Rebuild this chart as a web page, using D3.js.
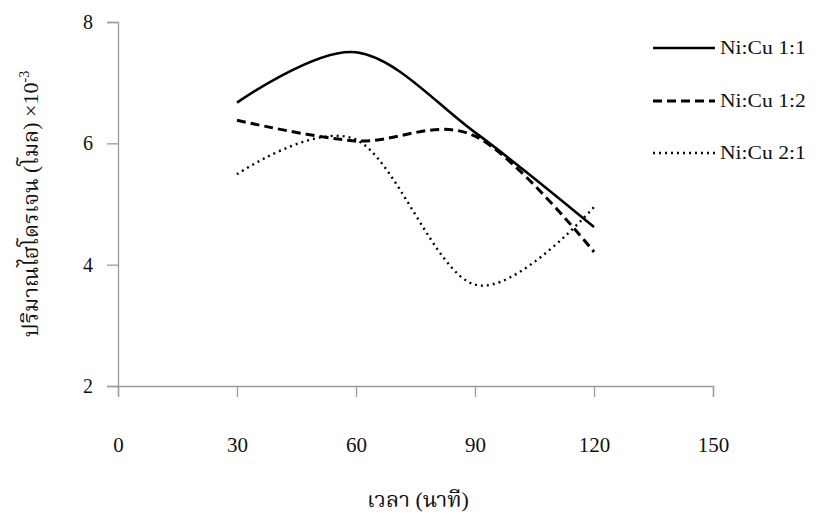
<!DOCTYPE html>
<html>
<head>
<meta charset="utf-8">
<script src="https://cdn.jsdelivr.net/npm/d3@7"></script>
<style>
  body { margin: 0; background: #fff; }
</style>
</head>
<body>
<div id="chart"></div>
<script>
const times = [30, 60, 90, 120];
const ratio11 = [6.67, 7.5, 6.18, 4.62];
const ratio12 = [6.38, 6.04, 6.12, 4.21];
const ratio21 = [5.49, 6.06, 3.67, 4.95];
const seriesNames = ['Ni:Cu 1:1', 'Ni:Cu 1:2', 'Ni:Cu 2:1'];
const xTicks = [0, 30, 60, 90, 120, 150];
const yTicks = [2, 4, 6, 8];

function createLineChart(element) {
  const width = 818;
  const height = 515;
  const serif = "'Liberation Serif', 'Noto Serif Thai', 'Noto Sans Thai', serif";
  const svg = d3.select(element).append('svg')
    .attr('width', width)
    .attr('height', height);

  const x = d3.scaleLinear().domain([0, 150]).range([118, 713]);
  const y = d3.scaleLinear().domain([2, 8]).range([386, 22]);

  const axisColor = '#9a9a9a';

  // x axis
  const xAxis = svg.append('g')
    .attr('transform', `translate(0,${y(2)})`)
    .call(d3.axisBottom(x).tickValues(xTicks).tickFormat(d3.format('d'))
      .tickSize(11).tickPadding(40));
  xAxis.select('.domain').attr('stroke', axisColor).attr('stroke-width', 1.3);
  xAxis.selectAll('.tick line').attr('stroke', axisColor).attr('stroke-width', 1.3);
  xAxis.selectAll('.tick text')
    .style('font-family', serif)
    .style('font-size', '21px')
    .attr('fill', '#111');

  // y axis
  const yAxis = svg.append('g')
    .attr('transform', `translate(${x(0)},0)`)
    .call(d3.axisLeft(y).tickValues(yTicks).tickFormat(d3.format('d'))
      .tickSize(11).tickPadding(14));
  yAxis.select('.domain').attr('stroke', axisColor).attr('stroke-width', 1.3);
  yAxis.selectAll('.tick line').attr('stroke', axisColor).attr('stroke-width', 1.3);
  yAxis.selectAll('.tick text')
    .style('font-family', serif)
    .style('font-size', '20px')
    .attr('fill', '#111');

  // titles
  svg.append('text')
    .attr('x', 418)
    .attr('y', 507)
    .attr('text-anchor', 'middle')
    .style('font-family', serif)
    .style('font-size', '22px')
    .attr('fill', '#111')
    .text('เวลา (นาที)');

  const yTitle = svg.append('text')
    .attr('transform', 'translate(38,204) rotate(-90)')
    .attr('text-anchor', 'middle')
    .style('font-family', serif)
    .style('font-size', '22px')
    .attr('fill', '#111');
  yTitle.append('tspan').text('ปริมาณไฮโดรเจน (โมล) ×10');
  yTitle.append('tspan').attr('dy', -9).style('font-size', '14px').text('-3');

  const styles = [
    { dash: null, width: 2.6 },
    { dash: '9,5', width: 3 },
    { dash: '2,4', width: 2.4 }
  ];
  const allValues = [ratio11, ratio12, ratio21];

  const line = d3.line()
    .x(d => x(d[0]))
    .y(d => y(d[1]))
    .curve(d3.curveCatmullRom.alpha(0));

  allValues.forEach((vals, i) => {
    svg.append('path')
      .datum(times.map((t, j) => [t, vals[j]]))
      .attr('fill', 'none')
      .attr('stroke', '#000')
      .attr('stroke-width', styles[i].width)
      .attr('stroke-dasharray', styles[i].dash)
      .attr('d', line);
  });

  // legend
  const legend = svg.append('g');
  const legendY = [48, 101, 153];
  seriesNames.forEach((name, i) => {
    legend.append('line')
      .attr('x1', 653).attr('x2', 715)
      .attr('y1', legendY[i]).attr('y2', legendY[i])
      .attr('stroke', '#000')
      .attr('stroke-width', styles[i].width)
      .attr('stroke-dasharray', styles[i].dash);
    // the original legend text is a bit stretched sideways
    legend.append('text')
      .attr('transform', `translate(720,${legendY[i]}) scale(1.2,1)`)
      .attr('dy', '0.35em')
      .style('font-family', serif)
      .style('font-size', '18px')
      .attr('fill', '#111')
      .text(name);
  });
}

createLineChart(document.getElementById('chart'));
</script>
</body>
</html>
